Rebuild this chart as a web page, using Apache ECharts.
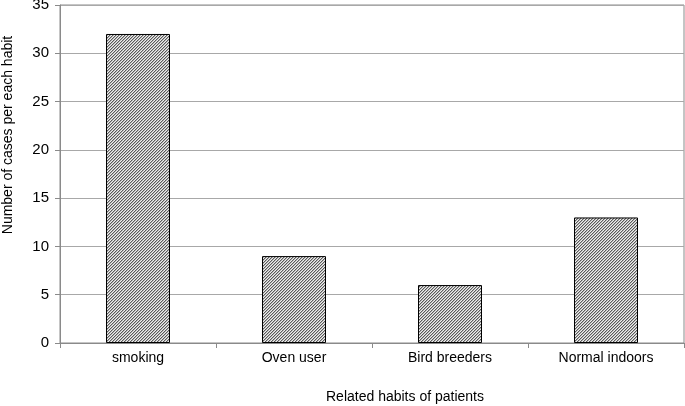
<!DOCTYPE html>
<html><head><meta charset="utf-8">
<script src="https://cdn.jsdelivr.net/npm/echarts@6/dist/echarts.min.js"></script>
<style>html,body{margin:0;padding:0;background:#fff}#c{width:685px;height:406px}</style>
</head><body><div id="c"></div>
<script>
const categories = ['smoking', 'Oven user', 'Bird breeders', 'Normal indoors'];
const cases = [32, 9, 6, 13];
const yTicks = [0, 5, 10, 15, 20, 25, 30, 35];

function hatch() {
  const n = 3;
  const cv = document.createElement('canvas');
  cv.width = n * 4; cv.height = n * 4;
  const ctx = cv.getContext('2d');
  ctx.fillStyle = '#eeeeee';
  ctx.fillRect(0, 0, cv.width, cv.height);
  for (let x = 0; x < cv.width; x++) {
    for (let y = 0; y < cv.height; y++) {
      const k = (x + y) % n;
      if (k === 0) { ctx.fillStyle = '#5a5a5a'; ctx.fillRect(x, y, 1, 1); }
      else if (k === 1) { ctx.fillStyle = '#b4b4b4'; ctx.fillRect(x, y, 1, 1); }
    }
  }
  return cv;
}

const font = '"Liberation Sans", Arial, sans-serif';
const chart = echarts.init(document.getElementById('c'), null, {renderer: 'canvas'});
chart.setOption({
  animation: false,
  grid: {left: 60, right: 1, top: 5, bottom: 63, outerBoundsMode: 'none', containLabel: false,
         show: true, borderColor: '#8a8a8a', borderWidth: 1},
  xAxis: {
    type: 'category', data: categories,
    axisLine: {lineStyle: {color: '#8a8a8a', width: 1}},
    axisTick: {show: true, length: 5, lineStyle: {color: '#8a8a8a'}},
    axisLabel: {color: '#000', fontFamily: font, fontSize: 14, margin: 8},
    name: 'Related habits of patients', nameLocation: 'middle', nameGap: 47,
    nameTextStyle: {color: '#000', fontFamily: font, fontSize: 14, padding: [0, 0, 0, 66]}
  },
  yAxis: {
    type: 'value', min: yTicks[0], max: yTicks[yTicks.length - 1], interval: 5,
    axisLine: {show: true, lineStyle: {color: '#8a8a8a', width: 1}},
    axisTick: {show: true, length: 5, inside: false, lineStyle: {color: '#8a8a8a'}},
    splitLine: {lineStyle: {color: '#a8a8a8', width: 1}},
    axisLabel: {color: '#000', fontFamily: font, fontSize: 15, margin: 11},
    name: 'Number of cases per each habit', nameLocation: 'middle', nameGap: 45, nameRotate: 90,
    nameTextStyle: {color: '#000', fontFamily: font, fontSize: 14, padding: [0, 0, 0, 78]}
  },
  series: [{
    type: 'bar', data: cases, barWidth: 64,
    itemStyle: {color: {image: hatch(), repeat: 'repeat'}, borderColor: '#000', borderWidth: 1}
  }]
});
</script></body></html>
